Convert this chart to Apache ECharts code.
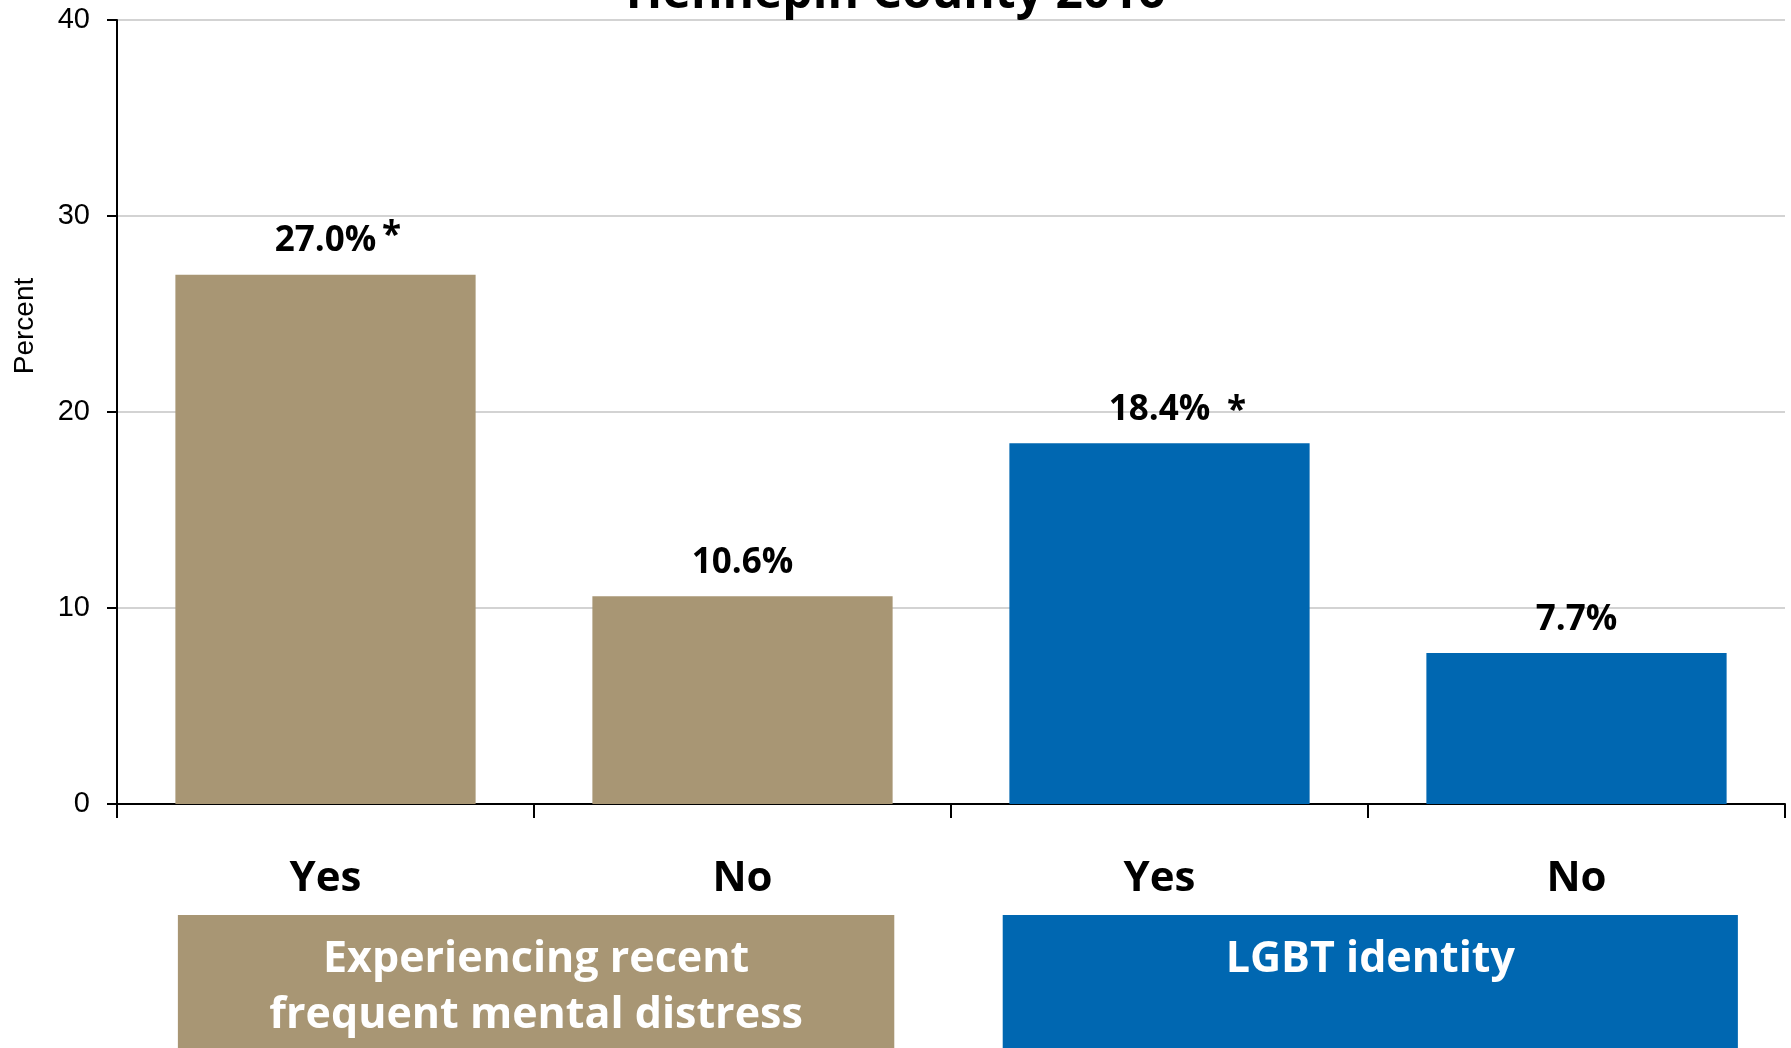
<!DOCTYPE html>
<html>
<head>
<meta charset="utf-8">
<script src="https://cdn.jsdelivr.net/npm/echarts@6/dist/echarts.min.js"></script>
<style>
  html, body { margin: 0; padding: 0; background: #fff; }
  #chart { width: 1791px; height: 1048px; }
</style>
</head>
<body>
<div id="chart"></div>
<script>
/* Hennepin County 2016 — two yes/no groups, four bars */
const categories = ['Yes', 'No', 'Yes', 'No'];
const values = [27.0, 10.6, 18.4, 7.7];
const valueLabels = ['27.0%', '10.6%', '18.4%', '7.7%'];
const significant = [true, false, true, false];
const barGroup = [0, 0, 1, 1];
const groupNames = ['Experiencing recent\nfrequent mental distress', 'LGBT identity'];
const groupSpans = [[0, 1], [2, 3]];
const yTicks = { min: 0, max: 40, interval: 10 };

// styles
const GROUP_COLORS = ['#A89674', '#0067B1'];
const GROUP_INSETS = [[0.354, 0.364], [0.376, 0.387]];   // 底框左右超出类目中心的比例
const STAR_OFFSETS = [[66, -5], null, [77, 1], null];
const BOLD = '"Open Sans", "Noto Sans", sans-serif';
const PLAIN = '"Liberation Sans", Arial, sans-serif';

const chart = echarts.init(document.getElementById('chart'), null, { renderer: 'canvas' });

const option = {
  animation: false,
  backgroundColor: '#fff',
  title: {
    text: 'Hennepin County 2016',
    left: 'center',
    top: -35,
    textStyle: { fontFamily: BOLD, fontWeight: 'bold', fontSize: 48, color: '#000' }
  },
  grid: { left: 117, right: 6, top: 20, bottom: 244, containLabel: false, outerBoundsMode: 'none' },
  xAxis: {
    type: 'category',
    data: categories,
    axisLine: { lineStyle: { color: '#000', width: 2 } },
    axisTick: { show: true, length: 14, interval: 0, alignWithLabel: false, lineStyle: { color: '#000', width: 2 } },
    axisLabel: { interval: 0, margin: 54, fontFamily: BOLD, fontWeight: 'bold', fontSize: 42, color: '#000' }
  },
  yAxis: {
    type: 'value',
    min: yTicks.min, max: yTicks.max, interval: yTicks.interval,
    name: 'Percent',
    nameLocation: 'middle',
    nameRotate: 90,
    nameGap: 78,
    nameTextStyle: { fontFamily: PLAIN, fontSize: 28, color: '#000', padding: [0, 0, 0, 172] },
    axisLine: { show: true, lineStyle: { color: '#000', width: 2 } },
    axisTick: { show: true, length: 10, lineStyle: { color: '#000', width: 2 } },
    axisLabel: { margin: 27, fontFamily: PLAIN, fontSize: 29, color: '#000' },
    splitLine: { lineStyle: { color: '#c4c4c4', width: 1.5 } }
  },
  series: [
    {
      type: 'bar',
      barWidth: '72%',
      data: values.map((v, i) => ({ value: v, itemStyle: { color: GROUP_COLORS[barGroup[i]] } })),
      label: {
        show: true, position: 'top', distance: 16,
        formatter: (p) => valueLabels[p.dataIndex],
        fontFamily: BOLD, fontWeight: 'bold', fontSize: 35, color: '#000'
      }
    },
    {
      // 显著性星号：透明柱叠在同一位置，只用来挂标签
      type: 'bar',
      barWidth: '72%',
      barGap: '-100%',
      silent: true,
      z: 3,
      itemStyle: { color: 'rgba(0,0,0,0)' },
      data: values.map((v, i) => ({
        value: v,
        label: { show: significant[i], offset: STAR_OFFSETS[i] || [0, 0] }
      })),
      label: {
        position: 'top', distance: 16, formatter: '*',
        fontFamily: BOLD, fontWeight: 'bold', fontSize: 35, color: '#000'
      }
    }
  ]
};

chart.setOption(option);

/* ── 分组底框：位置从类目轴换算 ───────────────────── */
function groupBoxes() {
  const px = (i) => chart.convertToPixel({ xAxisIndex: 0 }, i);
  const band = px(1) - px(0);
  const els = [];
  groupSpans.forEach(([a, b], g) => {
    const left = px(a) - GROUP_INSETS[g][0] * band;
    const right = px(b) + GROUP_INSETS[g][1] * band;
    els.push({
      type: 'rect',
      shape: { x: left, y: 915, width: right - left, height: 160 },
      style: { fill: GROUP_COLORS[g] }
    });
    els.push({
      type: 'text',
      x: (left + right) / 2,
      y: 932,
      style: {
        text: groupNames[g],
        fill: '#fff',
        font: `bold 43px ${BOLD}`,
        lineHeight: 56,
        align: 'center',
        verticalAlign: 'top'
      }
    });
  });
  return els;
}

chart.setOption({ graphic: groupBoxes() });
</script>
</body>
</html>
